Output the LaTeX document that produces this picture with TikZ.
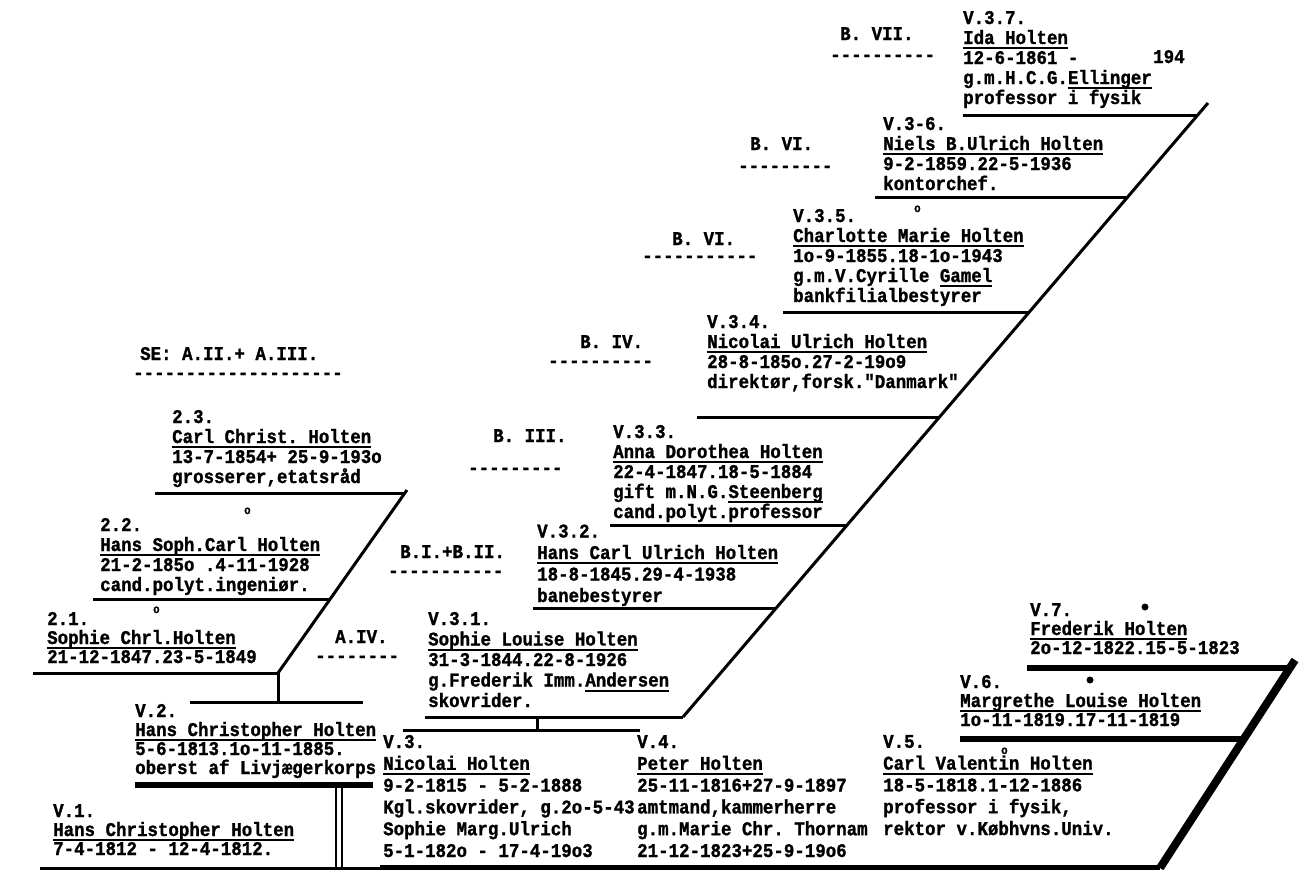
\documentclass[tikz,border=0pt]{standalone}
\usepackage{fontspec}
\setmonofont{Liberation Mono}[FakeStretch=0.9, BoldFeatures={FakeBold=1.2}]
\usetikzlibrary{positioning}

\newcommand{\typed}[1]{\fontsize{19.4}{#1}\selectfont\ttfamily\bfseries}
\newcommand{\nameline}[1]{\setbox0\hbox{#1}\rlap{\rule[-5pt]{\wd0}{2pt}}\box0}

\begin{document}
\begin{tikzpicture}[
        x=1pt, y=-1pt,
        % a person is placed at the baseline of its last row
        person/.style={anchor=base west, align=left, inner sep=0pt, font=\typed{#1}},
        person/.default=20,
        tag/.style={anchor=base west, inner sep=0pt, font=\typed{20}},
        typedmark/.style={anchor=base west, inner sep=0pt, font=\fontsize{12}{12}\selectfont\ttfamily\bfseries},
        rung/.style={line width=3pt},
        heavy/.style={line width=6pt},
        heavier/.style={line width=8pt}
    ]
        \useasboundingbox (0,0) rectangle (1299,870);
        \fill[white] (0,0) rectangle (1299,870);

        % Nodes: children of V.3
        \node[person] (v37) at (963,104) {V.3.7.\\ \nameline{Ida Holten}\\ 12-6-1861 -\\ g.m.H.C.G.\nameline{Ellinger}\\ professor i fysik};
        \node[tag] (v37end) at (1153,63) {194};
        \node[person] (v36) at (883,190) {V.3-6.\\ \nameline{Niels B.Ulrich Holten}\\ 9-2-1859.22-5-1936\\ kontorchef.};
        \node[person] (v35) at (793,302) {V.3.5.\\ \nameline{Charlotte Marie Holten}\\ 1o-9-1855.18-1o-1943\\ g.m.V.Cyrille \nameline{Gamel}\\ bankfilialbestyrer};
        \node[person] (v34) at (707,388) {V.3.4.\\ \nameline{Nicolai Ulrich Holten}\\ 28-8-185o.27-2-19o9\\ direktør,forsk."Danmark"};
        \node[person] (v33) at (613,518) {V.3.3.\\ \nameline{Anna Dorothea Holten}\\ 22-4-1847.18-5-1884\\ gift m.N.G.\nameline{Steenberg}\\ cand.polyt.professor};
        \node[person=21.5] (v32) at (537,602) {V.3.2.\\ \nameline{Hans Carl Ulrich Holten}\\ 18-8-1845.29-4-1938\\ banebestyrer};
        \node[person=20.5] (v31) at (428,707) {V.3.1.\\ \nameline{Sophie Louise Holten}\\ 31-3-1844.22-8-1926\\ g.Frederik Imm.\nameline{Andersen}\\ skovrider.};

        % Nodes: children of V.2
        \node[person] (c23) at (172,483) {2.3.\\ \nameline{Carl Christ. Holten}\\ 13-7-1854+ 25-9-193o\\ grosserer,etatsråd};
        \node[person] (c22) at (100,591) {2.2.\\ \nameline{Hans Soph.Carl Holten}\\ 21-2-185o .4-11-1928\\ cand.polyt.ingeniør.};
        \node[person=19] (c21) at (47,663) {2.1.\\ \nameline{Sophie Chrl.Holten}\\ 21-12-1847.23-5-1849};

        % Nodes: generation V
        \node[person=19] (v2) at (135,774) {V.2.\\ \nameline{Hans Christopher Holten}\\ 5-6-1813.1o-11-1885.\\ oberst af Livjægerkorps};
        \node[person=19] (v1) at (53,855) {V.1.\\ \nameline{Hans Christopher Holten}\\ 7-4-1812 - 12-4-1812.};
        \node[person=21.8] (v3) at (383,857) {V.3.\\ \nameline{Nicolai Holten}\\ 9-2-1815 - 5-2-1888\\ Kgl.skovrider, g.2o-5-43\\ Sophie Marg.Ulrich\\ 5-1-182o - 17-4-19o3};
        \node[person=21.8] (v4) at (637,857) {V.4.\\ \nameline{Peter Holten}\\ 25-11-1816+27-9-1897\\ amtmand,kammerherre\\ g.m.Marie Chr. Thornam\\ 21-12-1823+25-9-19o6};
        \node[person=21.8] (v5) at (883,835) {V.5.\\ \nameline{Carl Valentin Holten}\\ 18-5-1818.1-12-1886\\ professor i fysik,\\ rektor v.Købhvns.Univ.};
        \node[person=19] (v6) at (960,726) {V.6.\\ \nameline{Margrethe Louise Holten}\\ 1o-11-1819.17-11-1819};
        \node[person=19] (v7) at (1030,654) {V.7.\\ \nameline{Frederik Holten}\\ 2o-12-1822.15-5-1823};

        % Nodes: references
        \node[tag] (b7) at (840,40) {B. VII.};
        \node[tag] (b7line) at (830,61) {----------};
        \node[tag] (b6) at (750,150) {B. VI.};
        \node[tag] (b6line) at (738,172) {---------};
        \node[tag] (b5) at (672,245) {B. VI.};
        \node[tag] (b5line) at (642,262) {-----------};
        \node[tag] (b4) at (580,348) {B. IV.};
        \node[tag] (b4line) at (548,367) {----------};
        \node[tag] (b3) at (493,442) {B. III.};
        \node[tag] (b3line) at (468,474) {---------};
        \node[tag] (b12) at (400,558) {B.I.+B.II.};
        \node[tag] (b12line) at (388,577) {-----------};
        \node[tag] (a4) at (335,643) {A.IV.};
        \node[tag] (a4line) at (315,662) {--------};
        \node[tag] (se) at (140,360) {SE: A.II.+ A.III.};
        \node[tag] (seline) at (133,379) {--------------------};

        % Marks
        \node[typedmark] (o1) at (244,514) {o};
        \node[typedmark] (o2) at (153,613) {o};
        \node[typedmark] (o3) at (914,212) {o};
        \node[typedmark] (o4) at (1001,754) {o};
        \fill (1145,607) circle (3.5);
        \fill (1090,680) circle (3.5);

        % Ladder of V.3
        \coordinate (lowV3) at (683,717);
        \coordinate (topV3) at (1208,103);
        \draw[rung] (lowV3) -- (topV3);
        \draw[rung] (963,115) -- (1198,115);
        \draw[rung] (875,197) -- (1127,197);
        \draw[rung] (783,312) -- (1029,312);
        \draw[rung] (697,417) -- (939,417);
        \draw[rung] (610,525) -- (846,525);
        \draw[rung] (533,608) -- (775,608);
        \draw[rung] (425,717) -- (lowV3);
        \draw[rung] (537,717) -- (537,730);
        \draw[rung] (403,730) -- (640,730);

        % Ladder of V.2
        \coordinate (lowV2) at (278,673);
        \coordinate (topV2) at (407,490);
        \draw[rung] (lowV2) -- (topV2);
        \draw[rung] (155,493) -- (405,493);
        \draw[rung] (93,599) -- (329,599);
        \draw[rung] (33,673) -- (lowV2);
        \draw[rung] (lowV2) -- (278,702);
        \draw[rung] (190,702) -- (363,702);
        \draw[heavy] (135,785) -- (373,785);
        \draw[line width=2pt] (336,785) -- (336,868);
        \draw[line width=2pt] (342,785) -- (342,868);

        % Base line and V.5 - V.7
        \coordinate (lowV5) at (1160,868);
        \coordinate (topV7) at (1295,660);
        \draw[rung] (40,868) -- (380,868);
        \draw[heavy] (380,868) -- (lowV5);
        \draw[heavier] (lowV5) -- (topV7);
        \draw[heavy] (960,739) -- (1245,739);
        \draw[heavy] (1027,668) -- (1292,668);
    \end{tikzpicture}
\end{document}
